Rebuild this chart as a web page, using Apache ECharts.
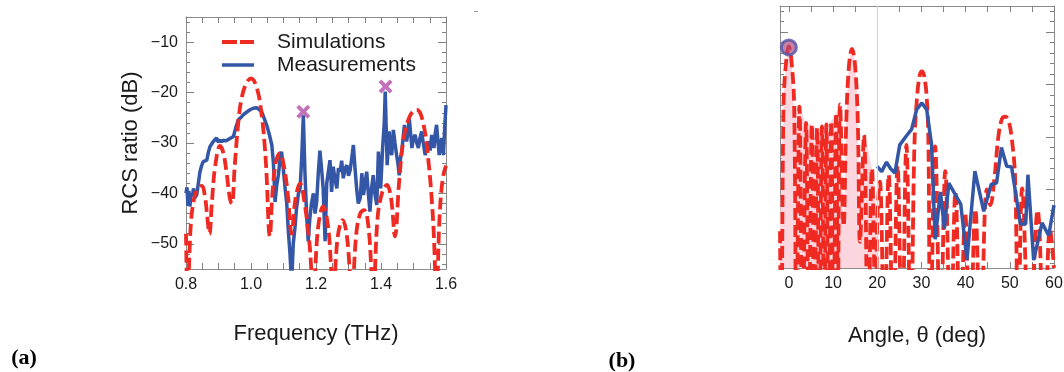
<!DOCTYPE html>
<html>
<head>
<meta charset="utf-8">
<script src="https://cdn.jsdelivr.net/npm/echarts@6.0.0/dist/echarts.min.js"></script>
<style>
html, body { margin: 0; padding: 0; background: #fff; }
#chart { width: 1064px; height: 372px; }
</style>
</head>
<body>
<div id="chart"></div>
<script>
// (a) RCS ratio vs frequency - simulation (red dashed)
var simFreq = [0.800,0.805,0.815,0.825,0.835,0.848,0.858,0.866,0.872,0.880,
	0.890,0.905,0.915,0.925,0.935,0.941,0.950,0.960,0.970,0.985,
	1.000,1.015,1.030,1.045,1.058,1.066,1.076,1.089,1.101,1.113,
	1.125,1.137,1.151,1.165,1.180,1.192,1.206,1.222,1.238,1.253,
	1.267,1.282,1.296,1.310,1.324,1.336,1.348,1.362,1.376,1.390,
	1.405,1.418,1.431,1.443,1.456,1.470,1.490,1.510,1.528,1.545,
	1.560,1.571,1.580,1.590,1.600];
var simDb = [-48,-60,-46,-41,-39.2,-38.5,-40.5,-45,-48,-41.5,
	-34.5,-30.6,-32,-36,-41,-42,-34.5,-26.5,-21.5,-18.2,
	-17.2,-18.5,-23,-33,-48.5,-40,-34,-32,-34.5,-40,
	-48,-41,-38,-42,-50,-60,-47,-42.6,-47,-60,
	-48.5,-45.3,-49,-60,-48,-44,-43.3,-47,-60,-44.5,
	-39.5,-38.3,-41,-48.5,-37.5,-29,-24.5,-23.4,-25.5,-33,
	-45,-60,-45,-37,-34.5];

// (a) measurement (blue)
var measFreq = [0.800,0.803,0.806,0.809,0.812,0.816,0.820,0.823,0.828,0.833,
	0.838,0.843,0.848,0.853,0.858,0.864,0.869,0.874,0.879,0.884,
	0.889,0.894,0.899,0.905,0.910,0.915,0.922,0.930,0.938,0.946,
	0.953,0.961,0.968,0.976,0.986,0.997,1.007,1.017,1.025,1.033,
	1.040,1.048,1.056,1.064,1.069,1.074,1.079,1.084,1.089,1.094,
	1.100,1.105,1.110,1.115,1.120,1.125,1.130,1.135,1.140,1.146,
	1.151,1.156,1.161,1.166,1.171,1.176,1.181,1.186,1.192,1.197,
	1.202,1.207,1.212,1.217,1.222,1.228,1.233,1.238,1.243,1.248,
	1.253,1.258,1.264,1.269,1.274,1.279,1.284,1.290,1.295,1.300,
	1.305,1.310,1.315,1.320,1.325,1.330,1.336,1.341,1.346,1.351,
	1.356,1.361,1.366,1.371,1.376,1.381,1.387,1.392,1.396,1.399,
	1.405,1.410,1.413,1.416,1.419,1.425,1.429,1.433,1.438,1.443,
	1.448,1.452,1.456,1.460,1.464,1.468,1.472,1.476,1.479,1.484,
	1.487,1.491,1.495,1.500,1.505,1.510,1.515,1.520,1.525,1.530,
	1.536,1.541,1.546,1.551,1.556,1.560,1.563,1.567,1.571,1.575,
	1.579,1.583,1.587,1.592,1.596,1.600];
var measDb = [-40.0,-38.8,-42.5,-39.5,-42.6,-40.0,-40.5,-39.0,-40.8,-40.3,
	-38.0,-35.7,-34.5,-33.7,-33.8,-33.4,-31.8,-30.7,-30.2,-29.7,
	-30.0,-29.0,-29.8,-29.4,-29.8,-29.4,-29.6,-29.3,-29.0,-28.7,
	-27.0,-25.4,-25.0,-24.4,-23.9,-23.4,-23.1,-23.0,-23.4,-23.8,
	-25.0,-26.4,-28.2,-30.4,-34.0,-41.7,-38.5,-36.4,-33.5,-31.7,
	-35.5,-39.0,-42.0,-47.6,-52.0,-58.0,-50.0,-47.0,-43.0,-40.0,
	-39.0,-33.0,-24.5,-36.0,-44.0,-49.5,-45.0,-42.0,-40.0,-44.0,
	-41.7,-36.0,-31.5,-35.0,-39.0,-49.5,-38.0,-35.7,-33.4,-39.7,
	-34.7,-37.0,-39.0,-35.0,-35.7,-33.5,-37.0,-35.0,-34.4,-36.5,
	-35.4,-33.0,-30.4,-35.0,-39.0,-42.0,-41.0,-36.0,-40.3,-38.0,
	-35.7,-40.0,-43.6,-39.0,-36.4,-40.0,-42.3,-31.7,-36.0,-39.0,
	-31.0,-26.0,-19.8,-27.0,-34.4,-27.7,-31.0,-32.4,-27.4,-30.0,
	-32.4,-34.0,-36.4,-33.0,-31.7,-29.0,-26.4,-28.5,-29.7,-27.0,
	-25.1,-28.0,-31.0,-29.0,-28.4,-30.0,-31.0,-29.0,-27.7,-30.0,
	-32.4,-30.5,-29.7,-31.5,-28.4,-30.0,-31.0,-28.0,-26.4,-29.5,
	-32.4,-30.5,-29.0,-32.4,-27.0,-22.5];

// (a) marked peaks (magenta crosses)
var peakFreq = [1.161, 1.414];
var peakDb = [-23.8, -18.8];

// (a) axis ticks
var freqLabels = [0.8, 1.0, 1.2, 1.4, 1.6];
var freqTicks = [0.80,0.85,0.90,0.95,1.00,1.05,1.10,1.15,1.20,1.25,1.30,1.35,1.40,1.45,1.50,1.55,1.60];
var dbLabels = [-50, -40, -30, -20, -10];
var dbMinor = [-54,-52,-50,-48,-46,-44,-42,-40,-38,-36,-34,-32,-30,-28,-26,-24,-22,-20,-18,-16,-14,-12,-10,-8,-6];

// (b) angle scan - simulation (red dashed)
var angSim = [-2.0,-1.7,-1.2,-0.6,0.0,0.6,1.2,1.7,2.4,3.1,
	3.9,4.5,5.2,5.8,6.4,6.9,7.5,8.0,8.5,9.0,
	9.6,10.1,10.7,11.1,11.6,12.4,13.0,13.6,14.3,15.0,
	15.6,16.1,17.0,17.9,18.8,19.7,20.0,20.6,21.6,22.6,
	23.6,24.6,25.6,26.6,27.6,28.4,29.0,29.6,30.1,30.6,
	31.2,31.6,32.0,33.1,34.3,35.4,36.6,37.7,38.8,39.9,
	41.0,42.2,43.4,44.8,45.6,46.5,47.4,48.2,48.9,49.6,
	50.4,51.2,51.9,52.8,54.5,56.3,57.8,59.1,60.0];
var angSimDb = [-38,-60,-14,-5.5,-2.7,-5.5,-14,-60,-14.2,-60,
	-17.3,-60,-17.6,-60,-18.3,-60,-18.0,-60,-17.6,-60,
	-17.0,-60,-15.4,-50,-13.8,-37,-17,-6.5,-3.2,-6.5,
	-17,-40,-19.6,-60,-26,-60,-36,-28.5,-60,-27.2,
	-60,-25.5,-60,-21.5,-60,-22,-12.5,-8.3,-7.5,-8.3,
	-12.5,-22,-60,-21.8,-60,-26.5,-60,-30.5,-60,-34.5,
	-60,-33.8,-60,-30,-33,-28,-20,-16.6,-16.1,-16.6,
	-20,-28,-60,-29.8,-60,-34,-60,-37.5,-45];

// (b) measurement (blue)
var angMeas = [20.0,21.0,22.1,23.0,24.0,25.1,26.5,27.8,28.9,30.1,
	31.2,32.3,33.1,34.3,35.2,36.2,37.8,38.9,40.3,42.1,
	44.1,45.8,47.0,48.1,49.3,50.4,52.4,53.6,54.1,55.4,
	57.3,58.8,60.0];
var angMeasDb = [-25.6,-26.6,-24.8,-26.0,-26.9,-21.5,-19.9,-18.5,-14.8,-13.5,
	-14.8,-21.5,-39.5,-30.5,-37.5,-28.8,-31.2,-32.8,-43.5,-26.5,
	-34.2,-29.0,-28.8,-22.0,-25.6,-25.7,-36.6,-36.6,-27.2,-43.5,
	-36.4,-38.8,-33.0];

// (b) circled specular point
var specAng = [0];
var specDb = [-2.9];

// (b) axis ticks
var angLabels = [0, 10, 20, 30, 40, 50, 60];
var angTicks = [0,5,10,15,20,25,30,35,40,45,50,55,60];
var angDbMajor = [-40, -30, -20, -10, 0];
var angDbMinor = [-44,-42,-40,-38,-36,-34,-32,-30,-28,-26,-24,-22,-20,-18,-16,-14,-12,-10,-8,-6,-4,-2,0,2,4];
var fillLimit = 20;

function zip(xs, ys) {
	var out = [];
	for (var i = 0; i < xs.length; i++) {
		out.push([xs[i], ys[i]]);
	}
	return out;
}

// pink area under the envelope of the left part (angle <= 20), nulls skipped
var fillData = [];
for (var k = 0; k < angSim.length; k++) {
	if (angSim[k] <= fillLimit && angSimDb[k] > -45) fillData.push([angSim[k], angSimDb[k]]);
}

var FONT = 'Liberation Sans, Arial, sans-serif';
var RED = '#ef2a22';
var BLUE = '#3356a6';

// one axis: ticks inside, optional labels, all by custom values
function makeAxis(grid, pos, min, max, ticks, len, labels, fmt, lineOn) {
	return {
		type: 'value',
		gridIndex: grid,
		position: pos,
		min: min,
		max: max,
		splitLine: { show: false },
		axisLine: { show: lineOn, onZero: false, lineStyle: { color: '#8c8c8c', width: 1 } },
		axisTick: { show: true, inside: true, length: len, customValues: ticks, lineStyle: { color: '#808080', width: 1 } },
		axisLabel: labels ? {
			show: true,
			customValues: labels,
			formatter: fmt,
			fontSize: 16,
			fontFamily: FONT,
			color: '#1a1a1a',
			margin: 8
		} : { show: false }
	};
}

function fmtFreq(v) { return Number(v).toFixed(1); }
function fmtDb(v) { return String(v).replace('-', '\u2212'); }
function fmtAng(v) { return String(v); }

var myChart = echarts.init(document.getElementById('chart'), null, { renderer: 'canvas' });

var option = {
	animation: false,
	backgroundColor: '#fff',
	grid: [
		{ left: 186, top: 17, width: 260, height: 252, outerBoundsMode: 'none' },
		{ left: 780, top: 6, width: 274, height: 262, outerBoundsMode: 'none' }
	],
	xAxis: [
		makeAxis(0, 'bottom', 0.8, 1.6, freqTicks, 6, freqLabels, fmtFreq, true),
		makeAxis(0, 'top', 0.8, 1.6, freqTicks, 6, null, null, true),
		makeAxis(1, 'bottom', -2, 60, angTicks, 6, angLabels, fmtAng, true),
		makeAxis(1, 'top', -2, 60, angTicks, 6, null, null, true)
	],
	yAxis: [
		makeAxis(0, 'left', -55, -5, dbLabels, 8, dbLabels, fmtDb, true),
		makeAxis(0, 'left', -55, -5, dbMinor, 4, null, null, false),
		makeAxis(0, 'right', -55, -5, dbLabels, 8, null, null, true),
		makeAxis(0, 'right', -55, -5, dbMinor, 4, null, null, false),
		makeAxis(1, 'left', -45, 5, angDbMajor, 8, null, null, true),
		makeAxis(1, 'left', -45, 5, angDbMinor, 4, null, null, false),
		makeAxis(1, 'right', -45, 5, angDbMajor, 8, null, null, true),
		makeAxis(1, 'right', -45, 5, angDbMinor, 4, null, null, false)
	],
	series: [
		{
			name: 'Measurements',
			type: 'line',
			xAxisIndex: 0,
			yAxisIndex: 0,
			data: zip(measFreq, measDb),
			symbol: 'none',
			clip: true,
			lineStyle: { color: BLUE, width: 3.5 },
			z: 3
		},
		{
			name: 'Simulations',
			type: 'line',
			xAxisIndex: 0,
			yAxisIndex: 0,
			data: zip(simFreq, simDb),
			smooth: 0.4,
			symbol: 'none',
			clip: true,
			lineStyle: { color: RED, width: 3.8, type: [12, 5] },
			z: 4
		},
		{
			name: 'peaks',
			type: 'scatter',
			xAxisIndex: 0,
			yAxisIndex: 0,
			data: zip(peakFreq, peakDb),
			symbol: 'path://M0,2 L2,0 L5,3 L8,0 L10,2 L7,5 L10,8 L8,10 L5,7 L2,10 L0,8 L3,5 Z',
			symbolSize: 14,
			itemStyle: { color: '#b24fa8' },
			z: 6
		},
		// (b)
		{
			name: 'fill-b',
			type: 'line',
			xAxisIndex: 2,
			yAxisIndex: 4,
			data: fillData,
			smooth: 0.3,
			symbol: 'none',
			clip: true,
			lineStyle: { width: 0 },
			areaStyle: { color: '#fcd6df', opacity: 1, origin: 'start' },
			markLine: {
				silent: true,
				symbol: 'none',
				label: { show: false },
				lineStyle: { color: '#f7c3cd', width: 1, type: 'solid' },
				data: [{ xAxis: fillLimit }]
			},
			z: 1
		},
		{
			name: 'sim-b',
			type: 'line',
			xAxisIndex: 2,
			yAxisIndex: 4,
			data: zip(angSim, angSimDb),
			smooth: 0.4,
			symbol: 'none',
			clip: true,
			lineStyle: { color: RED, width: 3.8, type: [12, 5] },
			z: 3
		},
		{
			name: 'meas-b',
			type: 'line',
			xAxisIndex: 2,
			yAxisIndex: 4,
			data: zip(angMeas, angMeasDb),
			symbol: 'none',
			clip: true,
			lineStyle: { color: BLUE, width: 3.5 },
			z: 4
		},
		{
			name: 'spec-b',
			type: 'scatter',
			xAxisIndex: 2,
			yAxisIndex: 4,
			data: zip(specAng, specDb),
			symbol: 'circle',
			symbolSize: 15,
			itemStyle: { color: 'rgba(176,70,120,0.85)', borderColor: '#5152a8', borderWidth: 3 },
			z: 6
		}
	],
	graphic: [
		// legend of panel (a)
		{
			type: 'line', shape: { x1: 222, y1: 42, x2: 254, y2: 42 },
			style: { stroke: RED, lineWidth: 3.8, lineDash: [15, 3] }, z: 10
		},
		{
			type: 'line', shape: { x1: 222, y1: 65, x2: 254, y2: 65 },
			style: { stroke: BLUE, lineWidth: 3.5 }, z: 10
		},
		{
			type: 'text', x: 277, y: 42,
			style: { text: 'Simulations', font: '21px ' + FONT, fill: '#1a1a1a', textVerticalAlign: 'middle' }, z: 10
		},
		{
			type: 'text', x: 277, y: 65,
			style: { text: 'Measurements', font: '21px ' + FONT, fill: '#1a1a1a', textVerticalAlign: 'middle' }, z: 10
		},
		// axis titles
		{
			type: 'text', x: 131, y: 143, rotation: Math.PI / 2,
			style: { text: 'RCS ratio (dB)', font: '22px ' + FONT, fill: '#1a1a1a', textAlign: 'center', textVerticalAlign: 'middle' }
		},
		{
			type: 'text', x: 316, y: 334,
			style: { text: 'Frequency (THz)', font: '22px ' + FONT, fill: '#1a1a1a', textAlign: 'center', textVerticalAlign: 'middle' }
		},
		{
			type: 'text', x: 917, y: 336,
			style: { text: 'Angle, \u03b8 (deg)', font: '22px ' + FONT, fill: '#1a1a1a', textAlign: 'center', textVerticalAlign: 'middle' }
		},
		// panel letters
		{
			type: 'text', x: 24, y: 358,
			style: { text: '(a)', font: 'bold 22px Liberation Serif, Times New Roman, serif', fill: '#000', textAlign: 'center', textVerticalAlign: 'middle' }
		},
		{
			type: 'text', x: 622, y: 361,
			style: { text: '(b)', font: 'bold 22px Liberation Serif, Times New Roman, serif', fill: '#000', textAlign: 'center', textVerticalAlign: 'middle' }
		},
		{
			type: 'rect', shape: { x: 474, y: 11, width: 4, height: 1 },
			style: { fill: '#999' }
		}
	]
};

myChart.setOption(option);
window.onresize = function() {
	myChart.resize();
};
</script>
</body>
</html>
